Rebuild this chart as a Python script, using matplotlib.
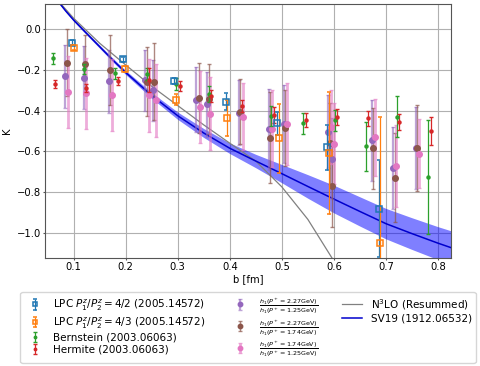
import numpy as np
import matplotlib
matplotlib.use('Agg')
import matplotlib.pyplot as plt
from matplotlib.lines import Line2D

# LPC, P1/P2 = 4/2 and 4/3
lpc42_b = [0.0975, 0.1956, 0.292, 0.392, 0.491, 0.587, 0.6865]
lpc42_k = [-0.066, -0.148, -0.256, -0.355, -0.463, -0.581, -0.882]
lpc42_e = [0.012, 0.012, 0.015, 0.04, 0.055, 0.11, 0.24]

lpc43_b = [0.101, 0.1994, 0.2975, 0.3955, 0.4937, 0.590, 0.6892]
lpc43_k = [-0.09, -0.195, -0.345, -0.437, -0.535, -0.61, -1.051]
lpc43_e = [0.012, 0.015, 0.025, 0.09, 0.17, 0.3, 0.62]

# Bernstein / Hermite
bern_b = [0.0597, 0.119, 0.180, 0.240, 0.296, 0.361, 0.4785, 0.5404, 0.6014, 0.661, 0.7206, 0.781]
bern_k = [-0.143, -0.195, -0.217, -0.219, -0.268, -0.318, -0.427, -0.463, -0.448, -0.575, -0.43, -0.726]
bern_e = [0.028, 0.025, 0.025, 0.03, 0.03, 0.04, 0.05, 0.05, 0.05, 0.12, 0.1, 0.28]

herm_b = [0.065, 0.1245, 0.1846, 0.245, 0.305, 0.364, 0.424, 0.4846, 0.5456, 0.6057, 0.6654, 0.7257, 0.786]
herm_k = [-0.27, -0.287, -0.254, -0.248, -0.28, -0.326, -0.378, -0.422, -0.447, -0.432, -0.438, -0.455, -0.501]
herm_e = [0.02, 0.02, 0.02, 0.06, 0.025, 0.03, 0.03, 0.04, 0.035, 0.04, 0.035, 0.04, 0.07]

# ratios of h1 at different P+
r1_b = [0.084, 0.119, 0.168, 0.238, 0.253, 0.336, 0.3565, 0.4173, 0.475, 0.504, 0.5885, 0.596, 0.6725, 0.7135, 0.757]
r1_k = [-0.23, -0.238, -0.255, -0.25, -0.30, -0.345, -0.368, -0.41, -0.491, -0.466, -0.504, -0.636, -0.545, -0.682, -0.583]
r1_e = [0.155, 0.156, 0.155, 0.15, 0.15, 0.16, 0.16, 0.16, 0.2, 0.19, 0.18, 0.2, 0.2, 0.2, 0.2]

r2_b = [0.087, 0.1225, 0.1706, 0.241, 0.255, 0.34, 0.36, 0.42, 0.478, 0.507, 0.592, 0.597, 0.676, 0.7167, 0.760]
r2_k = [-0.163, -0.172, -0.2, -0.258, -0.258, -0.337, -0.342, -0.405, -0.532, -0.485, -0.56, -0.77, -0.585, -0.729, -0.583]
r2_e = [0.165, 0.145, 0.17, 0.17, 0.19, 0.173, 0.172, 0.16, 0.225, 0.185, 0.2, 0.2, 0.2, 0.22, 0.21]

r3_b = [0.09, 0.124, 0.174, 0.244, 0.2577, 0.342, 0.3615, 0.4257, 0.4815, 0.51, 0.595, 0.600, 0.679, 0.7187, 0.7635]
r3_k = [-0.307, -0.315, -0.324, -0.324, -0.348, -0.381, -0.415, -0.43, -0.488, -0.466, -0.48, -0.562, -0.531, -0.672, -0.611]
r3_e = [0.176, 0.176, 0.176, 0.18, 0.18, 0.177, 0.18, 0.165, 0.19, 0.2, 0.18, 0.2, 0.19, 0.2, 0.17]

# N3LO (resummed) curve
n3lo_b = [0.074, 0.1, 0.15, 0.2, 0.25, 0.3, 0.35, 0.4, 0.45, 0.5, 0.55, 0.6]
n3lo_k = [0.13, 0.055, -0.068, -0.175, -0.28, -0.375, -0.47, -0.56, -0.648, -0.775, -0.935, -1.14]

# SV19 curve with band
sv_b = [0.072, 0.085, 0.1, 0.125, 0.15, 0.175, 0.2, 0.25, 0.3, 0.35, 0.4, 0.45, 0.5, 0.55, 0.6, 0.65, 0.7, 0.75, 0.8, 0.825]
sv_k = [0.132, 0.09, 0.046, -0.02, -0.085, -0.15, -0.212, -0.325, -0.425, -0.51, -0.585, -0.648, -0.71, -0.773, -0.835, -0.896, -0.956, -1.005, -1.052, -1.074]
sv_w = [0.004, 0.005, 0.006, 0.007, 0.008, 0.009, 0.01, 0.014, 0.018, 0.022, 0.026, 0.033, 0.045, 0.058, 0.068, 0.072, 0.075, 0.078, 0.081, 0.083]

labels = [
    r'LPC $P_1^z/P_2^z=4/2$ (2005.14572)',
    r'LPC $P_1^z/P_2^z=4/3$ (2005.14572)',
    'Bernstein (2003.06063)',
    'Hermite (2003.06063)',
    r'$\frac{h_1(P^+=2.27\mathrm{GeV})}{h_1(P^+=1.25\mathrm{GeV})}$',
    r'$\frac{h_1(P^+=2.27\mathrm{GeV})}{h_1(P^+=1.74\mathrm{GeV})}$',
    r'$\frac{h_1(P^+=1.74\mathrm{GeV})}{h_1(P^+=1.25\mathrm{GeV})}$',
    r'N$^3$LO (Resummed)',
    'SV19 (1912.06532)',
]

plt.rcParams['font.size'] = 7.2

fig = plt.figure(figsize=(4.8, 3.66), dpi=100)
ax = fig.add_axes([45/480, 1 - 258/366, 406/480, 254/366])

def rgba(c, a):
    r, g, b, _ = matplotlib.colors.to_rgba(c)
    return (r, g, b, a)

h = []
h.append(ax.errorbar(lpc42_b, lpc42_k, yerr=lpc42_e, fmt='s', ms=4.2, mfc='none', mew=1.1,
                     color='C0', capsize=1.5, elinewidth=0.9, zorder=5))
h.append(ax.errorbar(lpc43_b, lpc43_k, yerr=lpc43_e, fmt='s', ms=4.2, mfc='none', mew=1.1,
                     color='C1', capsize=1.5, elinewidth=0.9, zorder=5))
h.append(ax.errorbar(bern_b, bern_k, yerr=bern_e, fmt='o', ms=2.2, color='C2',
                     capsize=1.5, elinewidth=0.9, zorder=4))
h.append(ax.errorbar(herm_b, herm_k, yerr=herm_e, fmt='o', ms=2.2, color='C3',
                     capsize=1.5, elinewidth=0.9, zorder=4))
h.append(ax.errorbar(r1_b, r1_k, yerr=r1_e, fmt='o', ms=4, color='C4', ecolor=rgba('C4', 0.6),
                     capsize=1.5, elinewidth=1.6, zorder=3))
h.append(ax.errorbar(r2_b, r2_k, yerr=r2_e, fmt='o', ms=4, color='C5', ecolor=rgba('C5', 0.7),
                     capsize=1.5, elinewidth=1.0, zorder=3))
h.append(ax.errorbar(r3_b, r3_k, yerr=r3_e, fmt='o', ms=4, color='C6', ecolor=rgba('C6', 0.6),
                     capsize=1.5, elinewidth=2.0, zorder=3))

ln1, = ax.plot(n3lo_b, n3lo_k, color='gray', lw=0.9, zorder=2)
sv_b_arr = np.array(sv_b)
sv_k_arr = np.array(sv_k)
sv_w_arr = np.array(sv_w)
ax.fill_between(sv_b_arr, sv_k_arr - sv_w_arr, sv_k_arr + sv_w_arr, color='blue', alpha=0.5,
                lw=0, zorder=1)
ln2, = ax.plot(sv_b, sv_k, color='mediumblue', lw=1.1, zorder=2)

ax.set_xlim(0.045, 0.825)
ax.set_ylim(-1.125, 0.125)
ax.set_xticks([0.1, 0.2, 0.3, 0.4, 0.5, 0.6, 0.7, 0.8])
ax.set_yticks([0.0, -0.2, -0.4, -0.6, -0.8, -1.0])
ax.tick_params(length=1.5, pad=1.5, color='#555555')
for s in ax.spines.values():
    s.set_color('#555555')
ax.grid(True, color='#b0b0b0', lw=0.8)
ax.set_axisbelow(True)
ax.set_xlabel('b [fm]', labelpad=1.5)
ax.set_ylabel('K', labelpad=3)

blank = Line2D([], [], color='none')
handles = h[:4] + h[4:7] + [ln1, ln2, blank]
leg = fig.legend(handles, labels + [''], loc='lower center', bbox_to_anchor=(248/480, 3/366),
                 ncol=3, fontsize=7.5, handlelength=2.0, columnspacing=2.3,
                 handletextpad=0.8, labelspacing=0.2, borderaxespad=0, markerscale=0.8,
                 borderpad=0.35)
for t in leg.get_texts()[4:7]:
    t.set_fontsize(6.6)

fig.savefig('out.png', dpi=100)
